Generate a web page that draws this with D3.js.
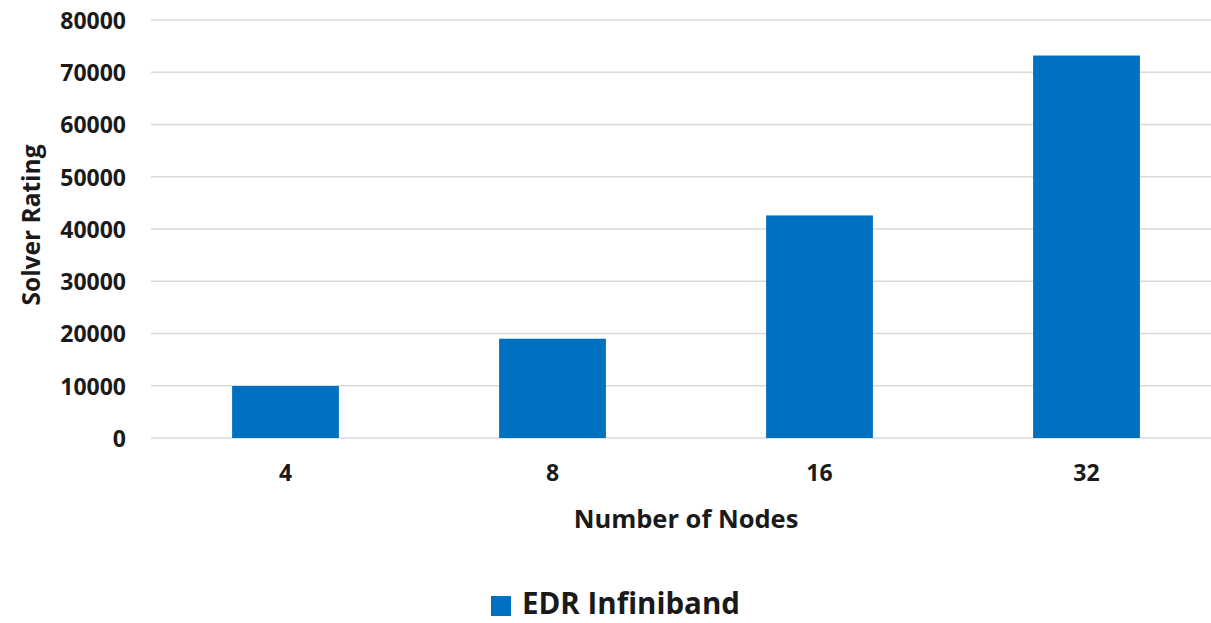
<!DOCTYPE html>
<html>
<head>
<meta charset="utf-8">
<script src="https://cdn.jsdelivr.net/npm/d3@7"></script>
<style>
  html, body { margin: 0; padding: 0; background: #ffffff; }
  svg { display: block; }
  text { font-family: "Open Sans", "Noto Sans", sans-serif; font-weight: 700; fill: #1a1a1a; }
</style>
</head>
<body>
<script>
// Solver rating by node count, EDR Infiniband
const categories = ["4", "8", "16", "32"];
const seriesName = "EDR Infiniband";
const ratings = [9950, 19000, 42600, 73200];
const yTicks = [0, 10000, 20000, 30000, 40000, 50000, 60000, 70000, 80000];

const W = 1211, H = 623;
const svg = d3.select("body").append("svg").attr("width", W).attr("height", H);

const x = d3.scaleBand().domain(categories).range([152, 1220]).paddingInner(0.6).paddingOuter(0.3);
const y = d3.scaleLinear().domain([0, 80000]).range([438, 20]);

// horizontal gridlines
svg.append("g")
  .selectAll("line")
  .data(yTicks)
  .join("line")
  .attr("x1", 151).attr("x2", W)
  .attr("y1", d => y(d)).attr("y2", d => y(d))
  .attr("stroke", "#d9d9d9").attr("stroke-width", 1.6);

// y axis labels
const yAxis = svg.append("g")
  .attr("transform", "translate(126,0)")
  .call(d3.axisLeft(y).tickValues(yTicks).tickFormat(d3.format("d")).tickSize(0).tickPadding(0));
yAxis.select(".domain").remove();
yAxis.selectAll("text")
  .attr("font-size", 23).attr("font-family", null).attr("fill", null)
  .attr("dy", "0.36em");

// bars
svg.append("g")
  .selectAll("rect")
  .data(categories.map((c, i) => ({ c, v: ratings[i] })))
  .join("rect")
  .attr("x", d => x(d.c))
  .attr("width", x.bandwidth())
  .attr("y", d => y(d.v))
  .attr("height", d => y(0) - y(d.v))
  .attr("fill", "#0070c0");

// x axis labels
const xAxis = svg.append("g")
  .attr("transform", "translate(0,464)")
  .call(d3.axisBottom(x).tickSize(0).tickPadding(0));
xAxis.select(".domain").remove();
xAxis.selectAll("text")
  .attr("font-size", 23).attr("font-family", null).attr("fill", null)
  .attr("dy", "0.72em");

// axis titles
svg.append("text")
  .attr("x", 686).attr("y", 528)
  .attr("text-anchor", "middle")
  .attr("font-size", 25.5)
  .text("Number of Nodes");

svg.append("text")
  .attr("transform", "translate(40,225) rotate(-90)")
  .attr("text-anchor", "middle")
  .attr("font-size", 24.5)
  .text("Solver Rating");

// legend
const legend = svg.append("g");
legend.append("rect")
  .attr("x", 491).attr("y", 596).attr("width", 20).attr("height", 20)
  .attr("fill", "#0070c0");
legend.append("text")
  .attr("x", 522).attr("y", 614)
  .attr("font-size", 29.5)
  .text(seriesName);
</script>
</body>
</html>
